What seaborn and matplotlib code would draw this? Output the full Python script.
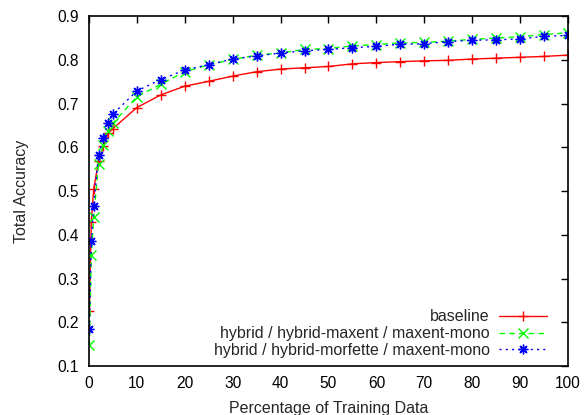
import pandas as pd
import numpy as np
import matplotlib.pyplot as plt
import seaborn as sns

sns.set_style('white')
plt.rcParams['font.family'] = ['Liberation Sans', 'DejaVu Sans']
plt.rcParams['xtick.direction'] = 'in'
plt.rcParams['ytick.direction'] = 'in'

# percentage of training data
pct = [0.1, 0.5, 1, 2, 3, 4, 5, 10, 15, 20, 25, 30, 35, 40, 45, 50,
       55, 60, 65, 70, 75, 80, 85, 90, 95, 100]

baseline = [0.226, 0.430, 0.505, 0.568, 0.603, 0.632, 0.643, 0.691, 0.720,
            0.740, 0.751, 0.763, 0.773, 0.779, 0.782, 0.785, 0.791, 0.794,
            0.796, 0.798, 0.799, 0.802, 0.804, 0.806, 0.808, 0.811]
maxent = [0.147, 0.353, 0.440, 0.562, 0.606, 0.637, 0.655, 0.716, 0.744,
          0.773, 0.789, 0.801, 0.811, 0.816, 0.824, 0.826, 0.832, 0.835,
          0.839, 0.840, 0.843, 0.847, 0.850, 0.853, 0.858, 0.862]
morfette = [0.185, 0.387, 0.467, 0.582, 0.622, 0.656, 0.676, 0.729, 0.755,
            0.777, 0.789, 0.802, 0.809, 0.816, 0.821, 0.824, 0.828, 0.831,
            0.836, 0.837, 0.842, 0.845, 0.846, 0.848, 0.854, 0.856]

labels = ['baseline',
          'hybrid / hybrid-maxent / maxent-mono',
          'hybrid / hybrid-morfette / maxent-mono']

fig = plt.figure(figsize=(5.85, 4.15), dpi=100)
ax = fig.add_axes([0.152, 0.118, 0.819, 0.843])

series = [(baseline, '#ff0000', '-', '+'),
          (maxent, '#00ff00', (0, (4, 3)), 'x'),
          (morfette, '#0000ff', (0, (1.5, 3)), (8, 2, 0))]

for (vals, col, ls, mk), lab in zip(series, labels):
    df = pd.DataFrame({'pct': pct, 'acc': vals})
    sns.lineplot(data=df, x='pct', y='acc', ax=ax, color=col, linestyle=ls,
                 marker=mk, markersize=7, markeredgecolor=col,
                 markeredgewidth=1.0, linewidth=1.0, label=lab)

ax.set_xlim(0, 100)
ax.set_ylim(0.1, 0.9)
ax.set_xticks(np.arange(0, 101, 10))
ax.set_yticks(np.arange(0.1, 0.91, 0.1))
ax.set_yticklabels(['%.1f' % v for v in np.arange(0.1, 0.91, 0.1)])
ax.tick_params(axis='both', which='major', length=5, width=1, labelsize=11.2,
               top=True, right=True, color='black', labelcolor='black', pad=7.5)
for s in ax.spines.values():
    s.set_color('black')
    s.set_linewidth(1.2)

ax.set_xlabel('Percentage of Training Data', fontsize=11.5, labelpad=7)
ax.set_ylabel('Total Accuracy', fontsize=11.5, labelpad=20)

ax.legend(loc='lower right', bbox_to_anchor=(0.973, 0.0), frameon=False,
          markerfirst=False, fontsize=11.5, handlelength=3.0,
          labelspacing=0.12, borderaxespad=0.1, handletextpad=0.6)

fig.savefig('out.png', dpi=100)
